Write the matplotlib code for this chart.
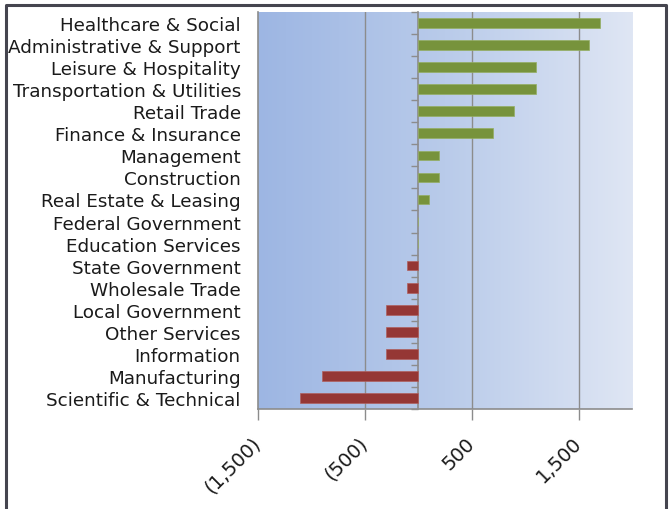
import matplotlib
matplotlib.use("Agg")
import matplotlib.pyplot as plt
import numpy as np
from matplotlib.ticker import FuncFormatter
from matplotlib.lines import Line2D
from matplotlib.colors import LinearSegmentedColormap

categories = [
    "Healthcare & Social", "Administrative & Support", "Leisure & Hospitality",
    "Transportation & Utilities", "Retail Trade", "Finance & Insurance",
    "Management", "Construction", "Real Estate & Leasing", "Federal Government",
    "Education Services", "State Government", "Wholesale Trade",
    "Local Government", "Other Services", "Information", "Manufacturing",
    "Scientific & Technical",
]
values = [1700, 1600, 1100, 1100, 900, 700, 200, 200, 100, 0, 0,
          -100, -100, -300, -300, -300, -900, -1100]
x_ticks = [-1500, -500, 500, 1500]

W, H = 669, 510
fig = plt.figure(figsize=(W / 100, H / 100), dpi=100)
fig.patch.set_facecolor("white")

ax = fig.add_axes([257.5 / W, 1 - 410 / H, (632 - 257.5) / W, (410 - 13) / H])

# gradient background
cmap = LinearSegmentedColormap.from_list("bg", ["#9DB6E3", "#B9CBEA", "#DFE6F4"])
grad = np.linspace(0, 1, 256).reshape(1, -1)
ax.imshow(grad, extent=[0, 1, 0, 1], transform=ax.transAxes, aspect="auto",
          cmap=cmap, zorder=0)

y = np.arange(len(categories))
vals = np.array(values)
colors = np.where(vals >= 0, "#77933C", "#953735")
edges = np.where(vals >= 0, "#94AE62", "#B0605E")
ax.barh(y, vals, height=0.44, color=colors, edgecolor=edges, linewidth=0.5, zorder=3)

ax.set_xlim(-1500, 2000)
ax.set_ylim(len(categories) - 0.5, -0.5)

ax.set_xticks(x_ticks)
ax.xaxis.set_major_formatter(FuncFormatter(
    lambda v, p: f"({abs(v):,.0f})" if v < 0 else f"{v:,.0f}"))
for v in x_ticks[1:]:
    ax.axvline(v, color="#8C8C8C", lw=1.0, zorder=1)

ax.set_yticks(y)
ax.set_yticklabels(categories, fontsize=13.2, color="#1A1A1A")
ax.tick_params(axis="y", length=0, pad=12)
ax.tick_params(axis="x", direction="out", length=8, width=1, color="#8C8C8C",
               labelsize=14, labelcolor="#1A1A1A", pad=14)
for lbl in ax.get_xticklabels():
    lbl.set_rotation(45)
    lbl.set_ha("right")
    lbl.set_va("center")
    lbl.set_rotation_mode("anchor")

for s in ["top", "right"]:
    ax.spines[s].set_visible(False)
for s in ["left", "bottom"]:
    ax.spines[s].set_color("#8C8C8C")
    ax.spines[s].set_linewidth(1.2)

# zero axis with category boundary ticks
zero_frac = 1500 / 3500
sec = ax.secondary_yaxis(zero_frac)
sec.set_yticks(np.arange(-0.5, len(categories), 1.0))
sec.set_yticklabels([])
sec.tick_params(axis="y", length=5, width=1, color="#8C8C8C", direction="out")
sec.spines["left"].set_color("#8C8C8C")
sec.spines["left"].set_linewidth(1.2)

# outer frame
fig.add_artist(Line2D([5.5 / W, 5.5 / W, 665.5 / W, 665.5 / W],
                      [0, 1 - 5.5 / H, 1 - 5.5 / H, 0],
                      transform=fig.transFigure, color="#45454F", lw=2.2))

fig.savefig("out.png", dpi=100)
